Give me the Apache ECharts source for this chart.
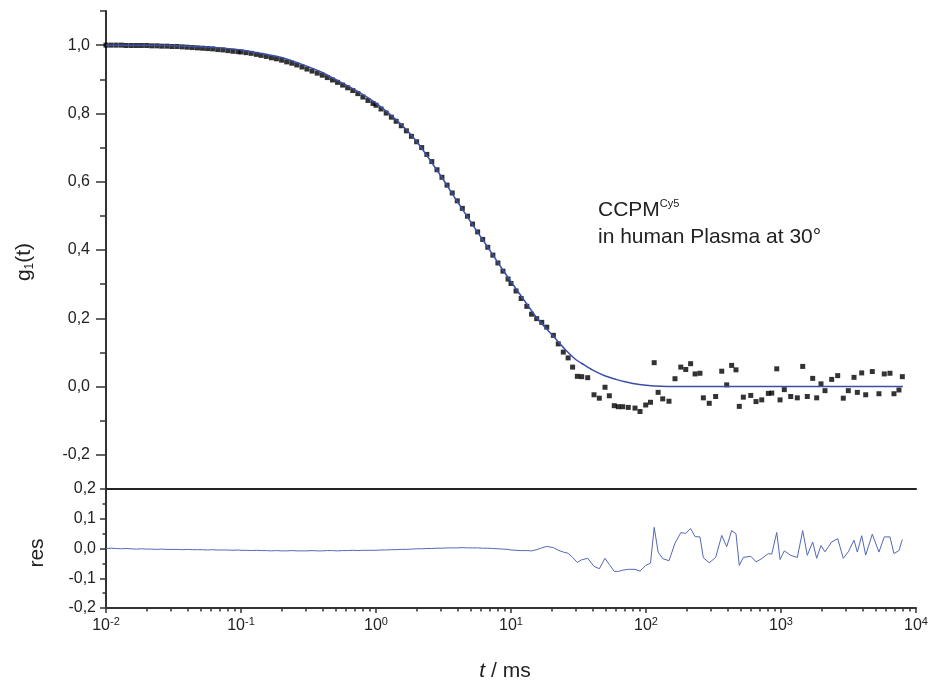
<!DOCTYPE html>
<html><head><meta charset="utf-8">
<script src="https://cdn.jsdelivr.net/npm/echarts@6/dist/echarts.min.js"></script>
<style>html,body{margin:0;padding:0;background:#fff}#c{width:934px;height:683px}</style>
</head><body><div id="c"></div>
<script>
// lag times (ms) of the measured correlation function
const times = [
  0.0100,0.0109,0.0119,0.0130,0.0141,0.0154,0.0168,0.0183,0.0200,
  0.0218,0.0238,0.0259,0.0283,0.0308,0.0336,0.0367,0.0400,0.0436,
  0.0476,0.0519,0.0566,0.0617,0.0673,0.0734,0.0800,0.0872,0.0951,
  0.100,0.109,0.119,0.130,0.141,0.154,0.168,0.183,0.200,
  0.218,0.238,0.259,0.283,0.308,0.336,0.367,0.400,0.436,
  0.476,0.519,0.566,0.617,0.673,0.734,0.800,0.872,0.951,
  1.00,1.09,1.19,1.30,1.41,1.54,1.68,1.83,2.00,
  2.18,2.38,2.59,2.83,3.08,3.36,3.67,4.00,4.36,
  4.76,5.19,5.66,6.17,6.73,7.34,8.00,8.72,9.51,
  10.0,10.9,11.9,
  13.1,14.2,15.5,16.9,18.4,20.6,22.4,24.4,26.5,
  28.6,31.0,33.4,37.0,41.2,45.1,49.7,53.5,58.2,
  62.4,67.2,73.9,82.9,90.3,99.5,108,115,123,
  133,148,164,181,197,214,231,251,266,
  294,328,364,396,431,464,491,526,597,
  653,720,806,854,930,984,1058,1180,1321,
  1448,1566,1717,1838,1978,2118,2374,2630,2893,
  3152,3475,3676,3961,4240,4745,5316,5821,6412,
  6867,7478,7920
];
// measured g1(t)
const g1 = [
  1.000,1.000,1.000,1.000,0.999,0.999,0.999,0.999,0.999,
  0.998,0.998,0.997,0.997,0.996,0.996,0.995,0.994,0.993,
  0.992,0.991,0.990,0.989,0.987,0.986,0.984,0.982,0.981,
  0.980,0.978,0.976,0.973,0.970,0.967,0.963,0.960,0.956,
  0.951,0.947,0.942,0.936,0.930,0.924,0.918,0.912,0.905,
  0.898,0.891,0.883,0.875,0.867,0.858,0.848,0.838,0.829,
  0.824,0.813,0.801,0.789,0.777,0.764,0.749,0.733,0.717,
  0.700,0.680,0.659,0.635,0.613,0.590,0.567,0.544,0.522,
  0.499,0.476,0.453,0.431,0.408,0.385,0.362,0.338,0.315,
  0.302,0.280,0.258,
  0.235,0.212,0.199,0.188,0.174,0.150,0.125,0.101,0.084,
  0.057,0.030,0.029,0.026,-0.024,-0.034,-0.002,-0.027,-0.056,
  -0.059,-0.059,-0.061,-0.063,-0.073,-0.054,-0.046,0.070,-0.017,
  -0.036,-0.043,0.023,0.057,0.050,0.067,0.037,0.039,-0.033,
  -0.049,-0.029,0.045,0.005,0.062,0.049,-0.058,-0.031,-0.026,
  -0.044,-0.039,-0.020,-0.019,0.052,-0.039,-0.009,-0.029,-0.033,
  0.059,-0.029,0.024,-0.033,0.008,-0.012,0.021,0.032,-0.034,
  -0.012,0.027,-0.017,0.040,-0.024,0.044,-0.021,0.037,0.039,
  -0.021,-0.010,0.029
];
// residuals of the fit
const residuals = [
  0.000,0.001,0.000,-0.001,0.000,-0.001,-0.002,-0.001,-0.002,
  -0.002,-0.003,-0.002,-0.003,-0.003,-0.003,-0.004,-0.003,-0.004,
  -0.004,-0.004,-0.005,-0.004,-0.005,-0.005,-0.005,-0.006,-0.005,
  -0.006,-0.006,-0.007,-0.006,-0.007,-0.007,-0.008,-0.007,-0.008,
  -0.008,-0.007,-0.008,-0.008,-0.008,-0.007,-0.008,-0.008,-0.007,
  -0.007,-0.008,-0.007,-0.007,-0.006,-0.007,-0.006,-0.006,-0.006,
  -0.006,-0.005,-0.005,-0.004,-0.004,-0.003,-0.003,-0.002,-0.001,
  -0.001,0.000,0.000,0.001,0.001,0.002,0.002,0.002,0.003,
  0.002,0.002,0.002,0.001,0.001,0.000,-0.001,-0.002,-0.003,
  -0.005,-0.006,-0.007,
  -0.007,-0.008,-0.004,0.002,0.007,0.003,-0.006,-0.012,-0.016,
  -0.030,-0.047,-0.038,-0.033,-0.060,-0.068,-0.033,-0.054,-0.077,
  -0.077,-0.073,-0.070,-0.070,-0.076,-0.057,-0.049,0.071,-0.012,
  -0.034,-0.041,0.018,0.053,0.051,0.067,0.040,0.039,-0.031,
  -0.048,-0.030,0.044,0.006,0.060,0.050,-0.057,-0.030,-0.026,
  -0.045,-0.034,-0.017,-0.019,0.054,-0.037,-0.008,-0.023,-0.030,
  0.060,-0.023,0.022,-0.033,0.010,-0.011,0.022,0.033,-0.033,
  -0.011,0.028,-0.012,0.043,-0.022,0.048,-0.012,0.039,0.039,
  -0.017,-0.007,0.030
];
// fitted curve
const fitTimes = [0.01,0.02,0.03,0.05,0.07,0.1,0.15,0.2,0.3,0.4,0.5,0.7,1,1.5,2,3,4,5,6,7,8,10,12,13.1,15,18,20,25,30,35,40,50,60,70,80,100,130,200,500,1000,3000,8000];
const fitG1 = [1.000,1.000,0.999,0.995,0.992,0.986,0.974,0.964,0.940,0.920,0.900,0.869,0.830,0.772,0.718,0.619,0.542,0.484,0.437,0.398,0.363,0.307,0.263,0.242,0.209,0.172,0.153,0.110,0.080,0.063,0.049,0.031,0.021,0.014,0.009,0.004,0.001,0,0,0,0,0];

const topMajorTicks = [-0.2,0,0.2,0.4,0.6,0.8,1.0];
const topMinorTicks = [-0.3,-0.1,0.1,0.3,0.5,0.7,0.9,1.1];
const xMajorTicks = [0.01,0.1,1,10,100,1000,10000];
const xMinorTicks = [0.02,0.03,0.04,0.05,0.06,0.07,0.08,0.09,
  0.2,0.3,0.4,0.5,0.6,0.7,0.8,0.9,
  2,3,4,5,6,7,8,9,
  20,30,40,50,60,70,80,90,
  200,300,400,500,600,700,800,900,
  2000,3000,4000,5000,6000,7000,8000,9000];

const FONT = '"Liberation Sans", Arial, sans-serif';
const TXT = '#222';
const AX = '#333';
const fmtComma = v => (Math.abs(v) < 1e-9 ? 0 : v).toFixed(1).replace('.', ',');
const expOf = v => Math.round(Math.log(v) / Math.LN10);

const chart = echarts.init(document.getElementById('c'), null, {renderer: 'canvas'});
const pts = times.map((t, i) => [t, g1[i]]);
const resPts = times.map((t, i) => [t, residuals[i]]);
const fitPts = fitTimes.map((t, i) => [t, fitG1[i]]);

chart.setOption({
  animation: false,
  backgroundColor: '#fff',
  textStyle: {fontFamily: FONT},
  grid: [
    {left: 106, right: 18, top: 11, height: 478, containLabel: false, outerBoundsMode: 'none'},
    {left: 106, right: 18, top: 489, height: 119, containLabel: false, outerBoundsMode: 'none'}
  ],
  xAxis: [
    {gridIndex: 0, type: 'log', logBase: 10, min: 0.01, max: 10000, position: 'bottom',
     axisLine: {show: true, onZero: false, lineStyle: {color: '#222', width: 2}},
     axisTick: {show: false}, axisLabel: {show: false}, splitLine: {show: false}},
    {gridIndex: 1, type: 'log', logBase: 10, min: 0.01, max: 10000, position: 'bottom',
     axisLine: {show: true, onZero: false, lineStyle: {color: AX, width: 2}},
     axisTick: {show: true, customValues: xMajorTicks, length: 5, lineStyle: {color: AX, width: 1.5}},
     axisLabel: {show: true, customValues: xMajorTicks, margin: 8, color: TXT,
       formatter: v => '{b|10}{s|' + expOf(v) + '}',
       rich: {b: {fontSize: 16, fontFamily: FONT, color: TXT, lineHeight: 20},
              s: {fontSize: 11, fontFamily: FONT, color: TXT, lineHeight: 8, verticalAlign: 'top'}}},
     splitLine: {show: false}},
    {gridIndex: 1, type: 'log', logBase: 10, min: 0.01, max: 10000, position: 'bottom',
     axisLine: {show: false, onZero: false},
     axisTick: {show: true, customValues: xMinorTicks, length: 3.5, lineStyle: {color: AX, width: 1.5}},
     axisLabel: {show: false}, splitLine: {show: false}}
  ],
  yAxis: [
    {gridIndex: 0, type: 'value', min: -0.3, max: 1.1, position: 'left',
     axisLine: {show: true, onZero: false, lineStyle: {color: AX, width: 2}},
     axisTick: {show: true, customValues: topMajorTicks, length: 10, lineStyle: {color: AX, width: 1.5}},
     axisLabel: {show: true, customValues: topMajorTicks, margin: 16, fontSize: 16, color: TXT, fontFamily: FONT,
       formatter: fmtComma},
     splitLine: {show: false}},
    {gridIndex: 0, type: 'value', min: -0.3, max: 1.1, position: 'left', offset: 0,
     axisLine: {show: false, onZero: false},
     axisTick: {show: true, customValues: topMinorTicks, length: 6, lineStyle: {color: AX, width: 1.5}},
     axisLabel: {show: false}, splitLine: {show: false}},
    {gridIndex: 1, type: 'value', min: -0.2, max: 0.2, interval: 0.1, position: 'left',
     axisLine: {show: true, onZero: false, lineStyle: {color: AX, width: 2}},
     axisTick: {show: true, length: 6, lineStyle: {color: AX, width: 1.5}},
     minorTick: {show: true, splitNumber: 2, length: 3.5, lineStyle: {color: AX, width: 1.5}},
     axisLabel: {show: true, margin: 10, fontSize: 16, color: TXT, fontFamily: FONT, formatter: fmtComma},
     splitLine: {show: false}, minorSplitLine: {show: false}}
  ],
  series: [
    {type: 'scatter', xAxisIndex: 0, yAxisIndex: 0, data: pts, symbol: 'rect', symbolSize: 5,
     itemStyle: {color: '#000'}, silent: true, z: 2},
    {type: 'line', xAxisIndex: 0, yAxisIndex: 0, data: fitPts, showSymbol: false, symbol: 'none',
     smooth: 0.25, lineStyle: {color: '#3b4fa6', width: 1.5}, silent: true, z: 3},
    {type: 'line', xAxisIndex: 1, yAxisIndex: 2, data: resPts, showSymbol: false, symbol: 'none',
     lineStyle: {color: '#5468b8', width: 1}, silent: true, z: 3}
  ],
  graphic: [
    {type: 'text', x: 24, y: 262, rotation: Math.PI / 2,
     style: {text: '{a|g}{s|1}{a|(t)}', align: 'center', verticalAlign: 'middle',
       rich: {a: {fontSize: 21, fontFamily: FONT, fill: TXT, lineHeight: 24},
              s: {fontSize: 12, fontFamily: FONT, fill: TXT, lineHeight: 12, verticalAlign: 'bottom'}}}},
    {type: 'text', x: 37, y: 553, rotation: Math.PI / 2,
     style: {text: 'res', align: 'center', verticalAlign: 'middle', fontSize: 21, fontFamily: FONT, fill: TXT}},
    {type: 'text', x: 505, y: 671,
     style: {text: '{i|t} / ms', align: 'center', verticalAlign: 'middle', fontSize: 21, fontFamily: FONT, fill: TXT,
       rich: {i: {fontStyle: 'italic', fontSize: 21, fontFamily: FONT, fill: TXT}}}},
    {type: 'text', x: 598, y: 210,
     style: {text: '{a|CCPM}{s|Cy5}', align: 'left', verticalAlign: 'middle',
       rich: {a: {fontSize: 21, fontFamily: FONT, fill: TXT, lineHeight: 24},
              s: {fontSize: 11, fontFamily: FONT, fill: TXT, lineHeight: 16, verticalAlign: 'top'}}}},
    {type: 'text', x: 598, y: 237,
     style: {text: 'in human Plasma at 30°', align: 'left', verticalAlign: 'middle', fontSize: 21, fontFamily: FONT, fill: TXT}}
  ]
});
</script>
</body></html>
